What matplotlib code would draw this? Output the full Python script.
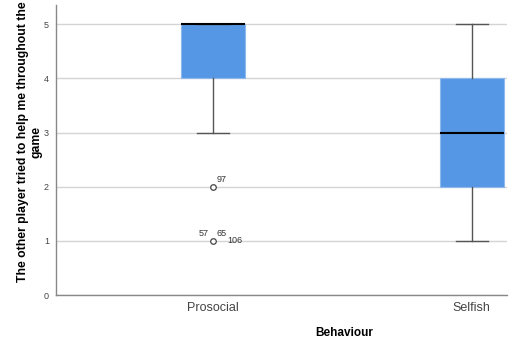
import matplotlib.pyplot as plt

plt.rcParams['font.family'] = ['Liberation Sans', 'DejaVu Sans']

# summary values for each group (SPSS style boxplot)
groups = ['Prosocial', 'Selfish']
q1 = [4, 2]
medians = [5, 3]
q3 = [5, 4]
whis_lo = [3, 1]
whis_hi = [5, 5]

# outlying cases in the prosocial group, with their case numbers
out_values = [2, 1]
out_cases = [['97'], ['57', '65', '106']]

stats = []
for i in range(len(groups)):
    stats.append({
        'label': groups[i],
        'q1': q1[i], 'med': medians[i], 'q3': q3[i],
        'whislo': whis_lo[i], 'whishi': whis_hi[i],
        'fliers': out_values if i == 0 else [],
    })

fig = plt.figure(figsize=(5.23, 3.42), dpi=100)
ax = fig.add_axes([0.107, 0.137, 0.862, 0.848])

ax.yaxis.grid(True, color='#d4d4d4', linewidth=1)
ax.set_axisbelow(True)

ax.bxp(stats, positions=[0, 1], widths=0.247, capwidths=0.124,
       patch_artist=True,
       boxprops=dict(facecolor='#5597e4', edgecolor='#8fb8ec', linewidth=0.8),
       medianprops=dict(color='black', linewidth=1.5),
       whiskerprops=dict(color='#555555', linewidth=1),
       capprops=dict(color='#555555', linewidth=1),
       flierprops=dict(marker='o', markersize=4, markerfacecolor='white',
                       markeredgecolor='#444444', markeredgewidth=0.9))

# case labels next to the outliers
lab = dict(fontsize=6.5, color='#333333', textcoords='offset pixels')
ax.annotate(out_cases[0][0], (0, out_values[0]), xytext=(4, 7), ha='left', va='center', **lab)
ax.annotate(out_cases[1][0], (0, out_values[1]), xytext=(-4, 7), ha='right', va='center', **lab)
ax.annotate(out_cases[1][1], (0, out_values[1]), xytext=(4, 7), ha='left', va='center', **lab)
ax.annotate(out_cases[1][2], (0, out_values[1]), xytext=(14, 0), ha='left', va='center', **lab)

ax.set_xlim(-0.606, 1.135)
ax.set_ylim(0, 5.35)
ax.set_yticks([0, 1, 2, 3, 4, 5])
ax.tick_params(axis='y', length=0, labelsize=6.5, labelcolor='#444444', pad=5)
ax.tick_params(axis='x', length=0, labelsize=9, labelcolor='#444444', pad=5)

for s in ['top', 'right']:
    ax.spines[s].set_visible(False)
for s in ['left', 'bottom']:
    ax.spines[s].set_color('#888888')
    ax.spines[s].set_linewidth(1)

ax.set_xlabel('Behaviour', fontsize=8.5, fontweight='bold')
ax.xaxis.set_label_coords(0.639, -0.11)
ax.set_ylabel('The other player tried to help me throughout the\ngame',
              fontsize=8.8, fontweight='bold', linespacing=1.2)
ax.yaxis.set_label_coords(-0.03, 0.528)

fig.savefig('out.png', dpi=100)
